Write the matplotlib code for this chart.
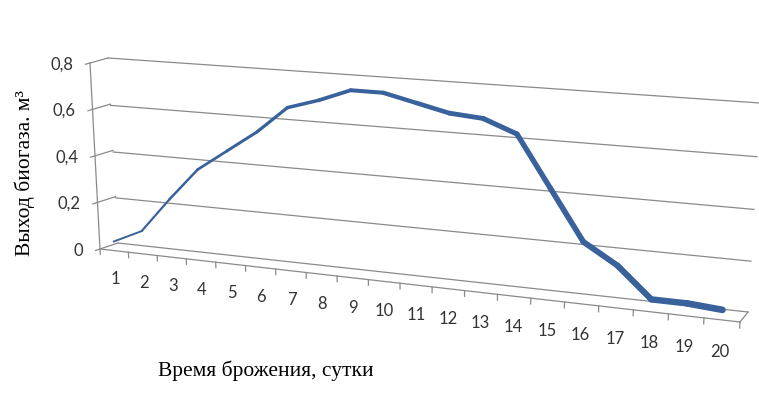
import numpy as np
import matplotlib
matplotlib.use('Agg')
import matplotlib.pyplot as plt
import matplotlib.transforms as mtransforms
from matplotlib.lines import Line2D
from matplotlib.collections import LineCollection

days = list(range(1, 21))
biogas = [0.04, 0.10, 0.25, 0.39, 0.48, 0.57, 0.68, 0.72, 0.77, 0.77,
          0.74, 0.71, 0.70, 0.65, 0.45, 0.25, 0.17, 0.05, 0.05, 0.04]
y_ticks = [0, 0.2, 0.4, 0.6, 0.8]
y_labels = ['0', '0,2', '0,4', '0,6', '0,8']
x_title = 'Время брожения, сутки'
y_title = 'Выход биогаза. м³'

W, H = 759, 412
# 3-d box as seen in the picture (pixels): bottom-left, bottom-right, top-left, top-right
front = np.array([[100, 249], [740, 322], [90, 63], [752, 113]], float)
back = np.array([[118, 243], [748, 312], [108, 58], [760, 103]], float)
n_cat = len(days)
v_max = y_ticks[-1]


class Homography(mtransforms.Transform):
    input_dims = output_dims = 2
    has_inverse = True

    def __init__(self, M):
        super().__init__()
        self.M = M

    def transform_non_affine(self, values):
        v = np.asarray(values, float)
        flat = v.ndim == 1
        v = v.reshape(-1, 2)
        p = np.column_stack([v, np.ones(len(v))]) @ self.M.T
        out = p[:, :2] / p[:, 2:]
        return out[0] if flat else out

    def inverted(self):
        return Homography(np.linalg.inv(self.M))


def square_to_quad(q):
    src = [(0, 0), (1, 0), (0, 1), (1, 1)]
    A, b = [], []
    for (s, t), (x, y) in zip(src, q):
        A.append([s, t, 1, 0, 0, 0, -s * x, -t * x]); b.append(x)
        A.append([0, 0, 0, s, t, 1, -s * y, -t * y]); b.append(y)
    h = np.linalg.solve(np.array(A, float), np.array(b, float))
    return np.append(h, 1).reshape(3, 3)


fig = plt.figure(figsize=(W / 100, H / 100), dpi=100)
fig.patch.set_facecolor('white')
to_fig = mtransforms.Affine2D().scale(1 / W, -1 / H).translate(0, 1) + fig.transFigure


def plane(q, sx, sy):
    return mtransforms.Affine2D().scale(1 / sx, 1 / sy) + Homography(square_to_quad(q)) + to_fig


def wall(d):
    return plane(front * (1 - d) + back * d, n_cat, v_max)


side = plane([front[0], back[0], front[2], back[2]], 1, v_max)   # (depth, value)
floor = plane([front[0], front[1], back[0], back[1]], n_cat, 1)  # (category, depth)

grid_kw = dict(color='#8a8a8a', lw=0.9)

# gridlines on the back wall and on the left wall
for v in y_ticks:
    fig.add_artist(Line2D([0, n_cat], [v, v], transform=wall(1), **grid_kw))
    fig.add_artist(Line2D([-0.25, 1], [v, v], transform=side, **grid_kw))
# value axis
fig.add_artist(Line2D([0, 0], [0, v_max], transform=side, **grid_kw))
# floor edges
fig.add_artist(Line2D([0, n_cat], [0, 0], transform=floor, **grid_kw))
fig.add_artist(Line2D([n_cat, n_cat], [0, 1], transform=floor, **grid_kw))
# category ticks
for u in range(n_cat + 1):
    fig.add_artist(Line2D([u, u], [0, -0.024], transform=wall(0), **grid_kw))

# category and value labels
for i, d in enumerate(days):
    fig.text(i + 0.5, -0.127, str(d), transform=wall(0), ha='center', va='center',
             fontsize=12, family='Lato', color='#333333')
for v, lab in zip(y_ticks, y_labels):
    tr = mtransforms.offset_copy(side, fig=fig, x=-12, y=0, units='dots')
    fig.text(-0.25, v, lab, transform=tr, ha='right', va='center',
             fontsize=12, family='Lato', color='#333333')

# data line, wider towards the viewer
xs = np.array(days) - 0.5
pts = np.column_stack([xs, biogas])
segs = [pts[i:i + 2] for i in range(len(pts) - 1)]
lc = LineCollection(segs, linewidths=np.linspace(1.4, 4.8, len(segs)), colors='#39619c',
                    capstyle='round', joinstyle='round', transform=wall(0))
fig.add_artist(lc)

fig.text(25 / W, 1 - 173 / H, y_title, rotation=90, ha='center', va='center',
         family='Liberation Serif', fontsize=15.5)
fig.text(266 / W, 1 - 371 / H, x_title, ha='center', va='center',
         family='Liberation Serif', fontsize=15.5)

fig.savefig('out.png', dpi=100, facecolor='white')
